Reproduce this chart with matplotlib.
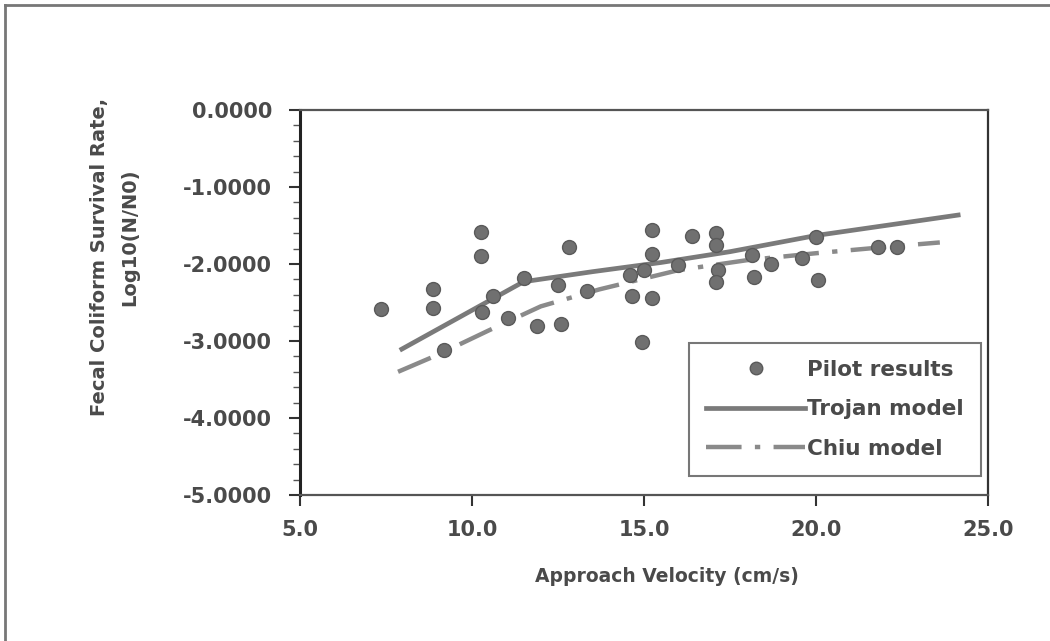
import matplotlib
matplotlib.use("Agg")
import matplotlib.pyplot as plt
from matplotlib.lines import Line2D
from matplotlib.ticker import MultipleLocator, FormatStrFormatter

plt.rcParams['font.family'] = ['DejaVu Sans']
plt.rcParams['axes.unicode_minus'] = False

# Pilot results (approach velocity cm/s, log10 survival)
pilot_x = [7.35, 8.87, 8.87, 9.2, 10.26, 10.26, 10.3, 10.6, 11.05, 11.5,
           11.9, 12.5, 12.6, 12.82, 13.35, 14.6, 14.65, 14.95, 15.0, 15.23,
           15.23, 15.23, 16.0, 16.4, 17.1, 17.1, 17.15, 17.1, 18.15, 18.2,
           18.7, 19.6, 20.0, 20.05, 21.8, 22.35]
pilot_y = [-2.58, -2.32, -2.57, -3.12, -1.58, -1.90, -2.62, -2.42, -2.70, -2.18,
           -2.80, -2.27, -2.78, -1.78, -2.35, -2.14, -2.42, -3.01, -2.08, -1.56,
           -1.87, -2.44, -2.01, -1.64, -1.60, -1.75, -2.08, -2.23, -1.88, -2.17,
           -2.00, -1.92, -1.65, -2.21, -1.78, -1.78]

# Trojan model
trojan_x = [7.9, 11.5, 13.5, 15.5, 17.5, 20.0, 24.2]
trojan_y = [-3.12, -2.23, -2.10, -1.98, -1.84, -1.63, -1.36]

# Chiu model
chiu_x = [7.85, 9.0, 10.5, 12.0, 13.7, 16.0, 18.0, 20.0, 22.0, 23.6]
chiu_y = [-3.40, -3.18, -2.86, -2.55, -2.33, -2.08, -1.95, -1.86, -1.78, -1.72]

x_ticks = [5.0, 10.0, 15.0, 20.0, 25.0]
y_ticks = [0.0, -1.0, -2.0, -3.0, -4.0, -5.0]

txt = '#4a4a4a'
gray = '#707070'

fig = plt.figure(figsize=(10.5, 6.41), dpi=100)
ax = fig.add_axes([300/1050, 1-495/641, 688/1050, 385/641])

ax.plot(trojan_x, trojan_y, color='#7a7a7a', lw=3.4, solid_capstyle='butt',
        label='Trojan model', zorder=2)
ax.plot(chiu_x, chiu_y, color='#8a8a8a', lw=3.2,
        linestyle=(0, (8, 3, 1.2, 3)), label='Chiu model', zorder=2)
ax.plot(pilot_x, pilot_y, linestyle='none', marker='o', markersize=10,
        color=gray, markeredgecolor='#5a5a5a', label='Pilot results', zorder=3)

ax.set_xlim(5, 25)
ax.set_ylim(-5, 0)
ax.set_xticks(x_ticks)
ax.set_yticks(y_ticks)
ax.yaxis.set_minor_locator(MultipleLocator(0.2))
ax.xaxis.set_major_formatter(FormatStrFormatter('%.1f'))
ax.yaxis.set_major_formatter(FormatStrFormatter('%.4f'))

ax.tick_params(axis='x', which='major', direction='out', length=8, width=1.5,
               pad=10, labelsize=15, labelcolor=txt, color='#333333')
ax.tick_params(axis='y', which='major', direction='out', length=8, width=1.5,
               pad=12, labelsize=15, labelcolor=txt, color='#333333')
ax.tick_params(axis='y', which='minor', direction='out', length=5, width=1.0,
               color='#555555')
for lab in ax.get_xticklabels() + ax.get_yticklabels():
    lab.set_fontweight('bold')

for side, sp in ax.spines.items():
    sp.set_color('#555555')
    sp.set_linewidth(1.6)
ax.spines['left'].set_color('#222222')
ax.spines['left'].set_linewidth(2.2)
ax.spines['right'].set_color('#333333')

fig.text(667/1050, 1-577/641, 'Approach Velocity (cm/s)', ha='center', va='center',
         fontsize=13.5, fontweight='bold', color=txt)
fig.text(100/1050, 1-257/641, 'Fecal Coliform Survival Rate,', ha='center', va='center',
         rotation=90, fontsize=14, fontweight='bold', color=txt)
fig.text(130/1050, 1-237/641, 'Log10(N/N0)', ha='center', va='center',
         rotation=90, fontsize=14, fontweight='bold', color=txt)

handles = [
    Line2D([], [], linestyle='none', marker='o', markersize=9, color=gray,
           markeredgecolor='#5a5a5a'),
    Line2D([], [], color='#7a7a7a', lw=3.4),
    Line2D([], [], color='#8a8a8a', lw=3.2, linestyle=(0, (8, 3, 1.2, 3))),
]
leg = ax.legend(handles, ['Pilot results', 'Trojan model', 'Chiu model'],
                loc='lower right', bbox_to_anchor=(0.99, 0.05),
                prop={'size': 15.5, 'weight': 'bold'}, handlelength=4.6,
                handletextpad=0.1, labelspacing=0.9, borderpad=0.8,
                borderaxespad=0.0,
                fancybox=False, framealpha=1, edgecolor='#777777')
leg.get_frame().set_linewidth(1.5)
for t in leg.get_texts():
    t.set_color(txt)

# outer frame lines (left and top edges of the page)
fig.add_artist(Line2D([5/1050, 5/1050], [0, 1-5/641], color='#777777', lw=2))
fig.add_artist(Line2D([5/1050, 1], [1-5/641, 1-5/641], color='#777777', lw=2))

fig.savefig('out.png', dpi=100)
